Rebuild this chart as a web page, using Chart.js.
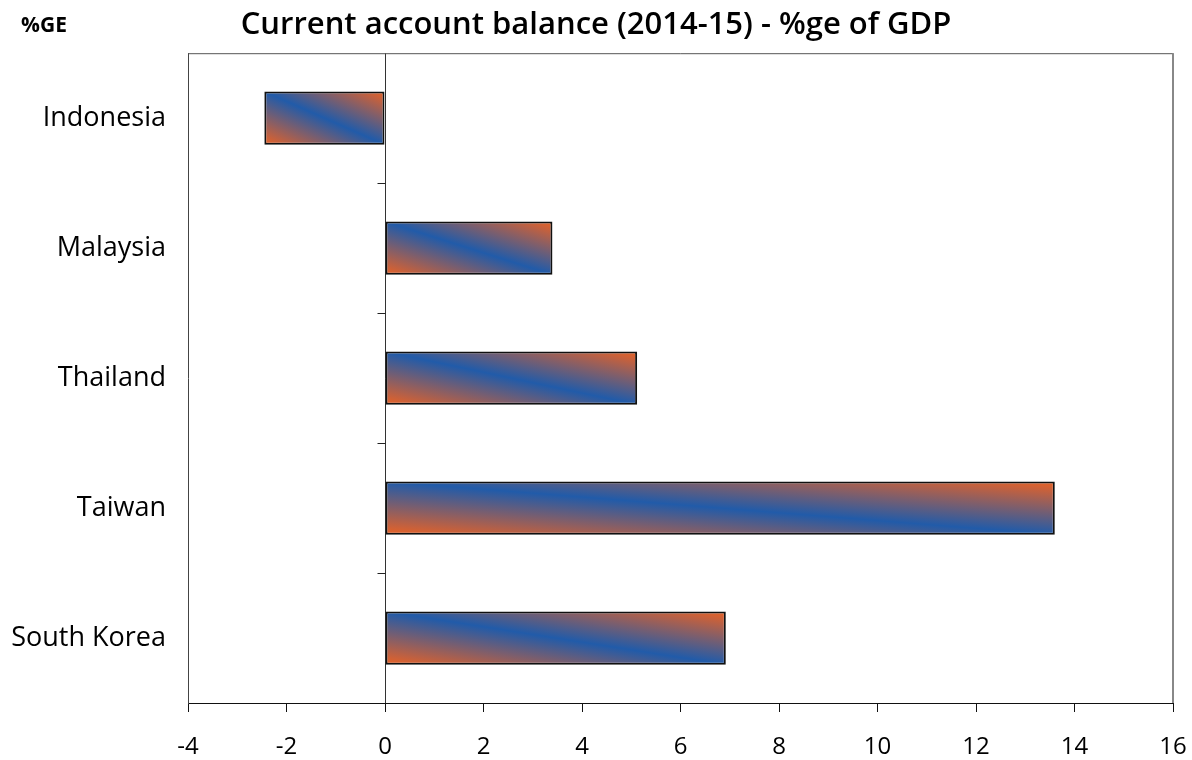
<!DOCTYPE html>
<html lang="en">
<head>
  <meta charset="UTF-8">
  <title>Current account balance (2014-15)</title>
  <script src="https://cdn.jsdelivr.net/npm/chart.js"></script>
  <style>
    html, body { margin: 0; padding: 0; background: #fff; }
    #wrap { position: relative; width: 1192px; height: 760px; }
  </style>
</head>
<body>
  <div id="wrap"><canvas id="chart" width="1192" height="760"></canvas></div>

  <script>
    // data
    const countries = ['Indonesia', 'Malaysia', 'Thailand', 'Taiwan', 'South Korea'];
    const balance = [-2.45, 3.4, 5.12, 13.6, 6.92];
    const xTicks = [-4, -2, 0, 2, 4, 6, 8, 10, 12, 14, 16];

    const ORANGE = '#eb6224';
    const BLUE = '#215ba9';
    const FONT = '"Open Sans", "Noto Sans", sans-serif';
    const BAR_SHARE = 0.41;

    // diagonal orange-blue-orange fill, blue band along the top-left/bottom-right diagonal
    function barFill(c) {
      const chart = c.chart;
      const xs = chart.scales.x, ys = chart.scales.y;
      if (!chart.chartArea || !xs || !ys) return BLUE;
      const v = c.raw;
      const a = xs.getPixelForValue(0), b = xs.getPixelForValue(v);
      const left = Math.min(a, b), w = Math.max(Math.abs(b - a), 1);
      const band = ys.height / countries.length;
      const h = band * BAR_SHARE;
      const bottom = ys.getPixelForValue(c.dataIndex) + h / 2;
      const k = 1 / (w * w) + 1 / (h * h);
      const s = 2 / k;
      const g = chart.ctx.createLinearGradient(left, bottom, left + s / w, bottom - s / h);
      g.addColorStop(0, ORANGE);
      g.addColorStop(0.5, BLUE);
      g.addColorStop(1, ORANGE);
      return g;
    }

    // frame on top/right, and small category ticks on the zero line
    const frame = {
      id: 'frame',
      beforeDatasetsDraw(chart) {
        const { ctx, chartArea: ca, scales } = chart;
        ctx.save();
        ctx.lineWidth = 1;
        ctx.strokeStyle = '#555';
        ctx.beginPath();
        ctx.moveTo(ca.left, ca.top + 0.5);
        ctx.lineTo(ca.right + 0.5, ca.top + 0.5);
        ctx.stroke();
        ctx.strokeStyle = '#888';
        ctx.lineWidth = 2;
        ctx.beginPath();
        ctx.moveTo(ca.right, ca.top);
        ctx.lineTo(ca.right, ca.bottom);
        ctx.stroke();
        const x0 = Math.round(scales.x.getPixelForValue(0)) + 0.5;
        ctx.strokeStyle = '#222';
        ctx.lineWidth = 1;
        ctx.beginPath();
        for (let i = 1; i < countries.length; i++) {
          const y = Math.round((scales.y.getPixelForValue(i - 1) + scales.y.getPixelForValue(i)) / 2) + 0.5;
          ctx.moveTo(x0 - 8, y);
          ctx.lineTo(x0, y);
        }
        ctx.stroke();
        ctx.restore();
      },
      afterDraw(chart) {
        const ctx = chart.ctx;
        ctx.save();
        ctx.font = 'bold 21px ' + FONT;
        ctx.fillStyle = '#000';
        ctx.textBaseline = 'middle';
        ctx.fillText('%GE', 21, 26);
        ctx.restore();
      }
    };

    new Chart(document.getElementById('chart'), {
      type: 'bar',
      data: {
        labels: countries,
        datasets: [{
          label: 'Current account balance',
          data: balance,
          backgroundColor: barFill,
          borderColor: '#111',
          borderWidth: 2,
          borderSkipped: false,
          barPercentage: BAR_SHARE,
          categoryPercentage: 1
        }]
      },
      options: {
        indexAxis: 'y',
        responsive: false,
        animation: false,
        layout: { padding: 0 },
        plugins: {
          legend: { display: false },
          tooltip: { enabled: false },
          title: {
            display: true,
            text: 'Current account balance (2014-15) - %ge of GDP',
            color: '#000',
            font: { family: FONT, size: 31, weight: '600' },
            padding: { top: 7, bottom: 9 }
          }
        },
        scales: {
          x: {
            min: xTicks[0],
            max: xTicks[xTicks.length - 1],
            afterBuildTicks(s) { s.ticks = xTicks.map(v => ({ value: v })); },
            afterFit(s) { s.height = 57; s.paddingLeft = 0; s.paddingRight = 19; },
            grid: {
              color: c => (c.tick && c.tick.value === 0 ? '#333' : 'rgba(0,0,0,0)'),
              tickColor: '#111',
              tickLength: 9
            },
            border: { color: '#111', width: 1 },
            ticks: {
              color: '#000',
              padding: 21,
              font: { family: FONT, size: 24 }
            }
          },
          y: {
            afterFit(s) { s.width = 188; },
            grid: { display: true, drawOnChartArea: false, drawTicks: false },
            border: { color: '#444', width: 1 },
            ticks: {
              color: '#000',
              padding: 22,
              font: { family: FONT, size: 27 }
            }
          }
        }
      },
      plugins: [frame]
    });
  </script>
</body>
</html>
